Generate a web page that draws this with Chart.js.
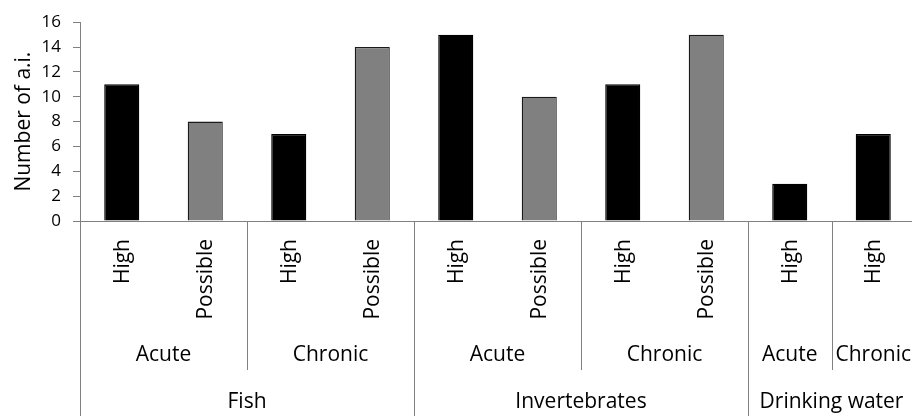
<!DOCTYPE html>
<html>
<head>
<meta charset="utf-8">
<script src="https://cdn.jsdelivr.net/npm/chart.js@4.4.1/dist/chart.umd.min.js"></script>
<style>
  html, body { margin: 0; padding: 0; overflow: hidden; background: #fff; }
  #wrap { width: 915px; height: 416px; }
</style>
</head>
<body>
<div id="wrap"><canvas id="c" width="915" height="416"></canvas></div>
<script>
// ---- Data ----
const levels    = ["High","Possible","High","Possible","High","Possible","High","Possible","High","High"];
const exposures = ["Acute","Acute","Chronic","Chronic","Acute","Acute","Chronic","Chronic","Acute","Chronic"];
const groups    = ["Fish","Fish","Fish","Fish","Invertebrates","Invertebrates","Invertebrates","Invertebrates","Drinking water","Drinking water"];
const values    = [11, 8, 7, 14, 15, 10, 11, 15, 3, 7];
const yTitle    = "Number of a.i.";

const FONT = "'Open Sans', sans-serif";
const AXIS = "#808080";

const multiLevelAxis = {
  id: "multiLevelAxis",
  afterDraw(chart) {
    const ctx = chart.ctx;
    const xs = chart.scales.x;
    const area = chart.chartArea;
    const n = levels.length;
    const w = xs.getPixelForValue(1) - xs.getPixelForValue(0);
    const bnd = i => xs.getPixelForValue(i) - w / 2;
    const yAxis = area.bottom;
    const yShort = 370, yFull = 416;

    ctx.save();
    ctx.strokeStyle = AXIS;
    ctx.lineWidth = 1;
    ctx.beginPath();
    ctx.moveTo(area.left - 7, Math.round(yAxis) + 0.5);
    ctx.lineTo(area.right, Math.round(yAxis) + 0.5);
    ctx.stroke();

    for (let i = 0; i <= n; i++) {
      const x = Math.round(bnd(i)) + 0.5;
      let bottom = null;
      if (i === 0 || i === n || groups[i] !== groups[i - 1]) bottom = yFull;
      else if (exposures[i] !== exposures[i - 1]) bottom = yShort;
      if (bottom !== null) {
        ctx.beginPath();
        ctx.moveTo(x, yAxis);
        ctx.lineTo(x, bottom);
        ctx.stroke();
      }
    }

    ctx.fillStyle = "#000";
    ctx.font = "21px " + FONT;
    for (let i = 0; i < n; i++) {
      const x = xs.getPixelForValue(i);
      ctx.save();
      ctx.translate(x + 1, 239);
      ctx.rotate(-Math.PI / 2);
      ctx.textAlign = "right";
      ctx.textBaseline = "middle";
      ctx.fillText(levels[i], 0, 0);
      ctx.restore();
    }
    const spans = (arr, keyFn) => {
      const out = [];
      let s = 0;
      for (let i = 1; i <= n; i++) {
        if (i === n || keyFn(i) !== keyFn(i - 1)) { out.push([s, i - 1, arr[s]]); s = i; }
      }
      return out;
    };
    ctx.textAlign = "center";
    ctx.textBaseline = "middle";
    spans(exposures, i => groups[i] + "|" + exposures[i]).forEach(([a, b, t]) => {
      ctx.fillText(t, (bnd(a) + bnd(b + 1)) / 2, 355);
    });
    spans(groups, i => groups[i]).forEach(([a, b, t]) => {
      ctx.fillText(t, (bnd(a) + bnd(b + 1)) / 2, 402);
    });
    ctx.restore();
  }
};

new Chart(document.getElementById("c"), {
  type: "bar",
  data: {
    labels: levels,
    datasets: [{
      data: values,
      backgroundColor: levels.map(l => l === "High" ? "#000000" : "#808080"),
      borderColor: levels.map(l => l === "High" ? "#000000" : "#1a1a1a"),
      borderWidth: 1.3,
      barPercentage: 0.42,
      categoryPercentage: 1.0
    }]
  },
  options: {
    responsive: false,
    animation: false,
    layout: { padding: { top: 20, bottom: 195, left: 0, right: 0 } },
    plugins: { legend: { display: false }, tooltip: { enabled: false } },
    scales: {
      x: { display: false },
      y: {
        min: 0, max: 16,
        ticks: { stepSize: 2, color: "#000", font: { family: FONT, size: 17 }, padding: 12 },
        grid: { drawOnChartArea: false, drawTicks: true, tickLength: 7, color: AXIS },
        border: { display: true, color: AXIS },
        title: { display: true, text: yTitle, color: "#000", font: { family: FONT, size: 21 }, padding: { top: 11, bottom: 0 } },
        afterFit(scale) { scale.width = 80; }
      }
    }
  },
  plugins: [multiLevelAxis]
});
</script>
</body>
</html>
